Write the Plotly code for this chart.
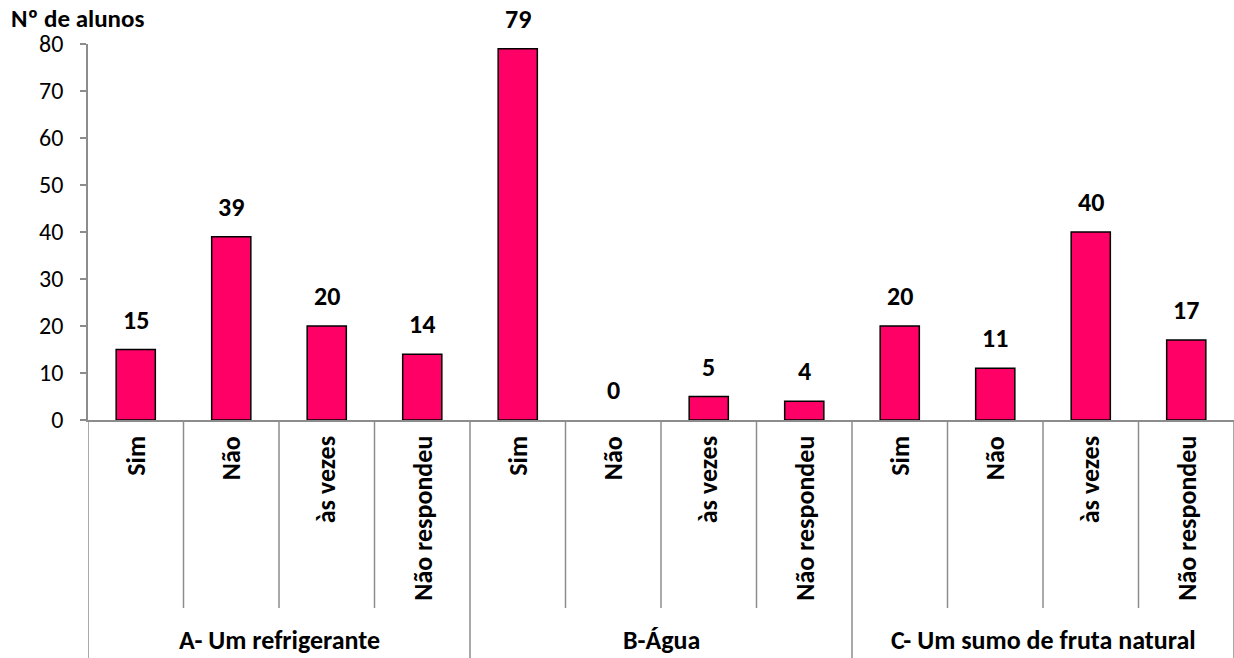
import plotly.graph_objects as go

groups = ["A- Um refrigerante", "B-Água", "C- Um sumo de fruta natural"]
answers = ["Sim", "Não", "às vezes", "Não respondeu"]
values = [15, 39, 20, 14, 79, 0, 5, 4, 20, 11, 40, 17]
y_ticks = [0, 10, 20, 30, 40, 50, 60, 70, 80]
y_title = "Nº de alunos"

FONT = "Calibri, Carlito, Lato, sans-serif"
AXIS_COL = "#8c8c8c"
FS = 26

n_per = len(answers)
n = len(values)
xpos = list(range(n))
cat_labels = [answers[i % n_per] for i in range(n)]

fig = go.Figure()
fig.add_trace(go.Bar(
    x=xpos, y=values,
    width=0.41,
    marker=dict(color="#FF0066",
                line=dict(color="black", width=[0 if v == 0 else 1.5 for v in values])),
    cliponaxis=False,
    showlegend=False,
))

# plot area geometry (px): top 44, bottom 420 => height 376
H = 376.0
def py(pixel):
    return (420 - pixel) / H

annotations = []
shapes = []
# value labels
for i, v in enumerate(values):
    annotations.append(dict(
        x=i, y=v, xref="x", yref="y", text="<b>%d</b>" % v, showarrow=False,
        xanchor="center", yanchor="bottom", yshift=12,
        font=dict(family=FONT, size=FS, color="black"),
    ))
for i, lab in enumerate(cat_labels):
    annotations.append(dict(
        x=i, y=py(434), xref="x", yref="paper",
        text="<b>%s</b>" % lab, showarrow=False, textangle=-90,
        xanchor="center", yanchor="top",
        font=dict(family=FONT, size=FS, color="black"),
    ))
for g, name in enumerate(groups):
    annotations.append(dict(
        x=g * n_per + (n_per - 1) / 2, y=py(640), xref="x", yref="paper",
        text="<b>%s</b>" % name, showarrow=False,
        xanchor="center", yanchor="middle",
        font=dict(family=FONT, size=FS, color="black"),
    ))
# dividers
for k in range(n + 1):
    bottom = py(658) if k % n_per == 0 else py(608)
    shapes.append(dict(
        type="line", xref="x", yref="paper",
        x0=k - 0.5, x1=k - 0.5, y0=0, y1=bottom,
        line=dict(color=AXIS_COL, width=1.5),
    ))

annotations.append(dict(
    x=(9 - 88) / 1146.0, y=py(1), xref="paper", yref="paper",
    text="<b>%s</b>" % y_title, showarrow=False,
    xanchor="left", yanchor="top",
    font=dict(family=FONT, size=FS - 1, color="black"),
))

fig.update_layout(
    width=1234, height=658,
    margin=dict(l=88, r=0, t=44, b=238),
    paper_bgcolor="white", plot_bgcolor="white",
    xaxis=dict(range=[-0.5, n - 0.5], showticklabels=False, ticks="",
               showgrid=False, zeroline=False, showline=True,
               linecolor=AXIS_COL, linewidth=1.5),
    yaxis=dict(range=[0, 80], tickvals=y_ticks, showgrid=False, zeroline=False,
               showline=True, linecolor=AXIS_COL, linewidth=1.5,
               ticks="outside", ticklen=6, tickcolor=AXIS_COL, tickwidth=1.5,
               ticklabelstandoff=12,
               tickfont=dict(family=FONT, size=FS - 2, color="black")),
    annotations=annotations,
    shapes=shapes,
)

fig.write_html("out.html")
